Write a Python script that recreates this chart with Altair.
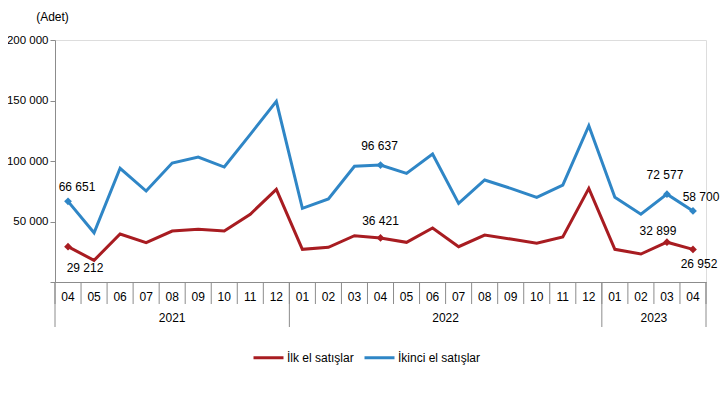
import altair as alt
import pandas as pd

months = ["04", "05", "06", "07", "08", "09", "10", "11", "12",
          "01", "02", "03", "04", "05", "06", "07", "08", "09", "10", "11", "12",
          "01", "02", "03", "04"]
years = ["2021"] * 9 + ["2022"] * 12 + ["2023"] * 4
ilk = [29212, 17900, 39700, 32500, 42100, 43500, 42100, 56000, 76600,
       27000, 28700, 38300, 36421, 32800, 44600, 29200, 38800, 35500, 32000, 37200, 77400,
       27000, 23100, 32899, 26952]
ikinci = [66651, 40700, 94000, 75200, 98300, 103300, 95000, 122000, 149300,
          60900, 68600, 95600, 96637, 89800, 105800, 65000, 84300, 77400, 70000, 80000, 129200,
          70000, 56000, 72577, 58700]
labeled_idx = [0, 12, 23, 24]
series_names = ["İlk el satışlar", "İkinci el satışlar"]

RED = "#A81C21"
BLUE = "#2F86C6"
FONT = "Liberation Sans"
W, H = 651, 242

n = len(months)
base = pd.DataFrame({"idx": list(range(n)), "month": months, "year": years})
long = pd.concat([
    base.assign(series=series_names[0], value=ilk, order=0),
    base.assign(series=series_names[1], value=ikinci, order=1),
])
long["label"] = long["value"].map(lambda v: f"{v:,}".replace(",", " "))

# separators at band boundaries
bounds = [i - 0.5 for i in range(n)] + [n - 0.5]
sep = pd.DataFrame({"b": bounds})
year_bounds = [-0.5] + [i - 0.5 for i in range(1, n) if years[i] != years[i - 1]] + [n - 0.5]
ysep = pd.DataFrame({"b": year_bounds})

xscale = alt.Scale(domain=[-0.5, n - 0.5], nice=False, zero=False)
yscale = alt.Scale(domain=[0, 200000], nice=False)
color = alt.Scale(domain=series_names, range=[RED, BLUE])

x = alt.X("idx:Q", scale=xscale,
          axis=alt.Axis(labels=False, ticks=False, grid=False, title=None,
                        domainColor="#8c8c8c", domainWidth=1))
y = alt.Y("value:Q", scale=yscale,
          axis=alt.Axis(values=[0, 50000, 100000, 150000, 200000],
                        labelExpr="datum.value == 0 ? '' : format(datum.value / 1000, 'd') + ' 000'",
                        grid=False, tickSize=5, tickColor="#8c8c8c", domainColor="#8c8c8c",
                        labelFont=FONT, labelFontSize=11.5, labelColor="#000", labelPadding=2,
                        title="(Adet)", titleAngle=0, titleAlign="center", titleBaseline="middle",
                        titleX=-3, titleY=-24, titleFont=FONT, titleFontSize=12,
                        titleFontWeight="normal", titleColor="#000"))

lines = alt.Chart(long).mark_line(strokeWidth=3).encode(
    x=x, y=y,
    color=alt.Color("series:N", scale=color, sort=series_names,
                    legend=alt.Legend(title=None, orient="none", direction="horizontal",
                                      legendX=197, legendY=301, symbolType="stroke",
                                      symbolSize=900, symbolStrokeWidth=3,
                                      labelFont=FONT, labelFontSize=12, labelColor="#000",
                                      labelOffset=2, columnPadding=4)),
    detail="series:N",
    order="idx:Q",
)

pts = alt.Chart(long).transform_filter(
    alt.FieldOneOfPredicate(field="idx", oneOf=labeled_idx)
).mark_point(shape="diamond", filled=True, size=60, opacity=1).encode(
    x="idx:Q", y="value:Q",
    color=alt.Color("series:N", scale=color, legend=None),
)

offsets = {
    (series_names[1], 0): (9, -14), (series_names[0], 0): (17, 21),
    (series_names[1], 12): (-1, -19), (series_names[0], 12): (0, -17),
    (series_names[1], 23): (-2, -19), (series_names[0], 23): (-9, -11),
    (series_names[1], 24): (8, -14), (series_names[0], 24): (6, 15),
}
labels = []
for (s, i), (dx, dy) in offsets.items():
    labels.append(
        alt.Chart(long).transform_filter(
            (alt.datum.series == s) & (alt.datum.idx == i)
        ).mark_text(dx=dx, dy=dy, font=FONT, fontSize=12, color="#000",
                    align="center", baseline="middle").encode(
            x="idx:Q", y="value:Q", text="label:N")
    )

month_sep = alt.Chart(sep).mark_rule(color="#8c8c8c", strokeWidth=1).encode(
    x=alt.X("b:Q", scale=xscale), y=alt.value(H), y2=alt.value(H + 22))
year_sep = alt.Chart(ysep).mark_rule(color="#8c8c8c", strokeWidth=1).encode(
    x=alt.X("b:Q", scale=xscale), y=alt.value(H), y2=alt.value(H + 45))

month_text = alt.Chart(base).mark_text(font=FONT, fontSize=12, color="#000",
                                       baseline="middle").encode(
    x=alt.X("idx:Q", scale=xscale), y=alt.value(H + 15), text="month:N")

year_text = alt.Chart(base).transform_aggregate(
    mid="mean(idx)", groupby=["year"]
).mark_text(font=FONT, fontSize=12, color="#000", baseline="middle").encode(
    x=alt.X("mid:Q", scale=xscale), y=alt.value(H + 36), text="year:N")

chart = alt.layer(
    month_sep, year_sep, month_text, year_text, lines, pts, *labels
).properties(
    width=W, height=H,
    autosize=alt.AutoSizeParams(type="none"),
    padding={"left": 47, "top": 32, "right": 14, "bottom": 90},
).configure_view(stroke=None).configure(background="white")

chart.save("out.html", embed_options={"renderer": "svg", "actions": False})
